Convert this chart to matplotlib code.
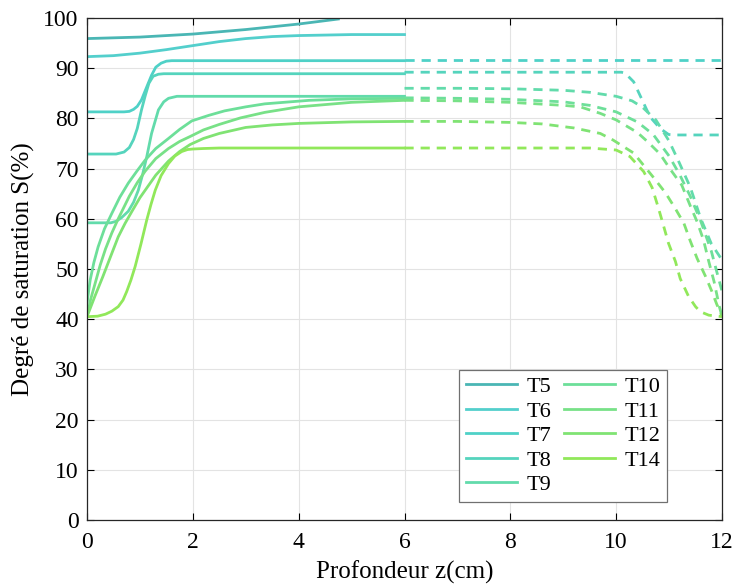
import matplotlib
matplotlib.use('Agg')
import matplotlib.pyplot as plt

plt.rcParams['font.family'] = ['Liberation Serif', 'DejaVu Serif']
plt.rcParams['mathtext.fontset'] = 'stix'

# Courbes mesurées (trait plein, 0-6 cm)
labels = ['T5', 'T6', 'T7', 'T8', 'T9', 'T10', 'T11', 'T12', 'T14']
colors = ['#4ab6b4', '#53cfcc', '#4fd1c7', '#55d4bd', '#62dbab', '#6ddf99',
          '#78e187', '#80e373', '#91e85a']

t5_x = [0, 1, 2, 3, 4, 4.75]
t5_y = [95.9, 96.2, 96.8, 97.7, 98.8, 99.8]
t6_x = [0, 0.5, 1, 1.5, 2, 2.5, 3, 3.5, 4, 5, 6]
t6_y = [92.3, 92.5, 93.0, 93.7, 94.5, 95.3, 95.9, 96.3, 96.5, 96.7, 96.7]
t7_x = [0, 0.7, 0.8, 0.88, 0.95, 1.03, 1.13, 1.22, 1.3, 1.4, 1.5, 1.6, 6]
t7_y = [81.3, 81.3, 81.4, 81.8, 82.4, 83.7, 86.3, 88.6, 90.2, 91.0, 91.4, 91.5, 91.5]
t8_x = [0, 0.55, 0.7, 0.8, 0.88, 0.95, 1.03, 1.1, 1.17, 1.25, 1.35, 1.45, 6]
t8_y = [72.9, 72.9, 73.3, 74.2, 75.8, 78.0, 81.7, 84.5, 87.0, 88.4, 88.8, 88.9, 88.9]
t9_x = [0, 0.45, 0.55, 0.65, 0.78, 0.88, 0.97, 1.05, 1.13, 1.22, 1.35, 1.45, 1.54, 1.7, 6]
t9_y = [59.2, 59.2, 59.5, 60.2, 61.5, 63.3, 65.7, 68.8, 72.4, 77.0, 81.7, 83.3, 84.0, 84.4, 84.4]
t10_x = [0, 0.06, 0.13, 0.21, 0.33, 0.47, 0.62, 0.78, 0.95, 1.1, 1.3, 1.54, 1.75, 1.98,
         2.3, 2.6, 3.0, 3.36, 4.2, 5, 6]
t10_y = [43.2, 47.8, 51.3, 54.4, 58.0, 61.1, 64.3, 67.1, 69.6, 71.7, 74.0, 76.0, 77.8, 79.5,
         80.6, 81.5, 82.3, 82.9, 83.6, 83.9, 84.0]
t11_x = [0, 0.07, 0.15, 0.25, 0.35, 0.47, 0.59, 0.8, 0.95, 1.1, 1.3, 1.54, 1.75, 1.95,
         2.2, 2.5, 2.9, 3.36, 4, 5, 6]
t11_y = [40.5, 44.0, 47.0, 50.8, 54.0, 57.2, 60.0, 64.5, 67.2, 69.5, 72.0, 74.0, 75.4, 76.4,
         77.7, 78.8, 80.1, 81.2, 82.3, 83.2, 83.6]
t12_x = [0, 0.15, 0.3, 0.45, 0.59, 0.72, 0.85, 1.0, 1.1, 1.3, 1.54, 1.75, 1.95, 2.2, 2.5,
         3, 3.5, 4, 5, 6]
t12_y = [40.5, 44.6, 48.5, 52.6, 56.4, 59.1, 61.5, 64.2, 65.7, 68.7, 71.5, 73.4, 74.8, 76.0, 77.0,
         78.2, 78.7, 79.0, 79.3, 79.4]
t14_x = [0, 0.2, 0.35, 0.47, 0.59, 0.68, 0.75, 0.83, 0.91, 1.02, 1.13, 1.21, 1.29, 1.4,
         1.54, 1.66, 1.79, 1.9, 2.0, 2.2, 2.5, 6]
t14_y = [40.5, 40.6, 41.0, 41.6, 42.5, 43.8, 45.5, 47.8, 50.5, 55.0, 59.8, 62.9, 65.7, 68.6,
         71.0, 72.5, 73.4, 73.8, 73.9, 74.0, 74.1, 74.1]

# Courbes prolongées (tirets, 6-12 cm)
t7_xd = [6, 12]
t7_yd = [91.7, 91.7]
t8_xd = [6, 10.1, 10.17, 10.33, 10.49, 10.64, 10.83, 10.99, 11.1, 12]
t8_yd = [89.2, 89.2, 89.0, 87.3, 83.7, 80.3, 78.0, 76.8, 76.7, 76.7]
t9_xd = [6, 7, 8, 9, 9.5, 10.0, 10.3, 10.5, 10.75, 11.0, 11.2, 11.4, 11.6, 11.8, 12]
t9_yd = [86.0, 86.0, 85.9, 85.6, 85.2, 84.4, 83.5, 82.2, 79.7, 75.5, 71.0, 66.3, 60.0, 55.0, 51.8]
t10_xd = [6, 7, 8, 9, 9.5, 10.0, 10.4, 10.7, 11.0, 11.2, 11.4, 11.6, 11.8, 11.9, 12]
t10_yd = [84.1, 84.0, 83.8, 83.3, 82.6, 81.3, 79.3, 76.8, 72.5, 68.8, 64.5, 59.5, 53.5, 49.5, 45.6]
t11_xd = [6, 7, 8, 9, 9.32, 9.7, 10.0, 10.4, 10.6, 10.83, 11.02, 11.24, 11.4, 11.53,
          11.65, 11.75, 11.85, 11.95, 12]
t11_yd = [83.6, 83.5, 83.2, 82.6, 82.3, 81.0, 79.7, 77.2, 75.3, 72.9, 69.9, 66.7, 62.6, 59.4,
          55.8, 51.5, 47.5, 42.5, 40.6]
t12_xd = [6, 7, 8, 8.6, 9.2, 9.7, 9.94, 10.33, 10.7, 10.93, 11.12, 11.28, 11.4, 11.53,
          11.69, 11.81, 11.9, 12]
t12_yd = [79.4, 79.4, 79.2, 78.9, 78.1, 77.0, 75.7, 73.1, 68.3, 65.2, 62.0, 59.1, 55.6, 52.1,
          48.5, 45.5, 43.0, 40.6]
t14_xd = [6, 9.5, 10.0, 10.26, 10.52, 10.68, 10.8, 10.89, 10.99, 11.12, 11.21, 11.37,
          11.5, 11.59, 11.75, 12]
t14_yd = [74.1, 74.1, 73.7, 72.4, 69.4, 66.2, 62.1, 58.8, 55.1, 51.5, 48.1, 44.5,
          42.5, 41.5, 40.8, 40.5]

solid = [(t5_x, t5_y), (t6_x, t6_y), (t7_x, t7_y), (t8_x, t8_y), (t9_x, t9_y),
         (t10_x, t10_y), (t11_x, t11_y), (t12_x, t12_y), (t14_x, t14_y)]
dashed = [None, None, (t7_xd, t7_yd), (t8_xd, t8_yd), (t9_xd, t9_yd),
          (t10_xd, t10_yd), (t11_xd, t11_yd), (t12_xd, t12_yd), (t14_xd, t14_yd)]

fig = plt.figure(figsize=(7.36, 5.88), dpi=100)
ax = fig.add_axes([87 / 736, 68 / 588, 635 / 736, 502 / 588])

lw = 2.0
for lab, col, s, d in zip(labels, colors, solid, dashed):
    ax.plot(s[0], s[1], color=col, lw=lw, label=lab, solid_joinstyle='round')
    if d is not None:
        ax.plot(d[0], d[1], color=col, lw=lw, dashes=(3.3, 2.5))

ax.set_xlim(0, 12)
ax.set_ylim(0, 100)
ax.set_xticks(range(0, 13, 2))
ax.set_yticks(range(0, 101, 10))
ax.grid(True, color='#e3e3e3', lw=0.8)
ax.set_axisbelow(True)
ax.tick_params(direction='in', top=True, right=True, labelsize=17, length=5,
               width=0.8)
ax.tick_params(axis='x', pad=9)
ax.tick_params(axis='y', pad=6)
for sp in ax.spines.values():
    sp.set_linewidth(0.9)
    sp.set_color('#262626')

ax.set_xlabel('Profondeur z(cm)', fontsize=18, labelpad=5)
ax.set_ylabel('Degré de saturation S(%)', fontsize=18, labelpad=6)

leg = ax.legend(ncol=2, loc='lower right', bbox_to_anchor=(0.913, 0.036),
                borderaxespad=0, fontsize=16, frameon=True, fancybox=False,
                edgecolor='#707070', framealpha=1, handlelength=2.3,
                handletextpad=0.4, columnspacing=0.6, labelspacing=0.18,
                borderpad=0.3)
leg.get_frame().set_linewidth(0.9)

fig.savefig('out.png', dpi=100)
